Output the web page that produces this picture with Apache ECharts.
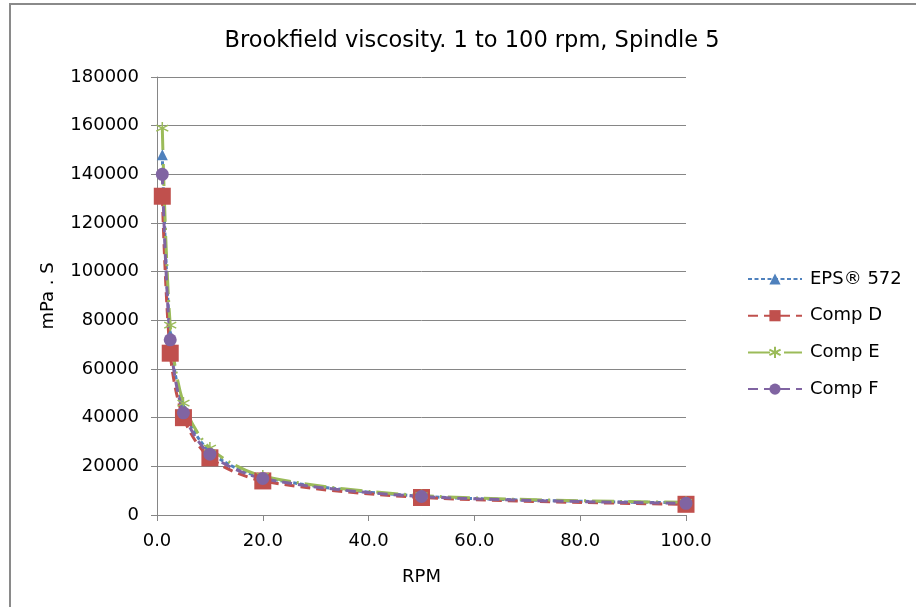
<!DOCTYPE html>
<html>
<head>
<meta charset="utf-8">
<script src="https://cdn.jsdelivr.net/npm/echarts@6/dist/echarts.min.js"></script>
<style>
  html, body { margin: 0; padding: 0; background: #fff; }
</style>
</head>
<body>
<div id="main" style="width: 916px;height: 607px;"></div>
<script>
// spindle speeds (rpm)
var rpm = [1, 2.5, 5, 10, 20, 50, 100]
// viscosity, mPa.s
var eps572 = [148000, 74000, 44000, 26000, 15500, 7700, 5000]
var compD = [131000, 66500, 40000, 23500, 14000, 7200, 4400]
var compE = [159000, 78000, 46000, 27500, 16000, 8000, 5200]
var compF = [140000, 72000, 42000, 25000, 15000, 7600, 4800]
var yTicks = [0, 20000, 40000, 60000, 80000, 100000, 120000, 140000, 160000, 180000]

function pairs (ys) {
  return rpm.map(function (x, i) { return [x, ys[i]] })
}

var gridColor = '#868686'
var font = 'DejaVu Sans, sans-serif'
var star = 'path://M5 0 L5 10 M0.7 2.5 L9.3 7.5 M0.7 7.5 L9.3 2.5'

var myChart = echarts.init(document.getElementById('main'))
var option = {
  animation: false,
  textStyle: { fontFamily: font },
  title: {
    text: 'Brookfield viscosity. 1 to 100 rpm, Spindle 5',
    left: 467,
    top: 25,
    textAlign: 'center',
    textStyle: { fontSize: 22.5, fontWeight: 'normal', color: '#000', fontFamily: font }
  },
  graphic: [{
    type: 'rect',
    shape: { x: 10, y: 4, width: 920, height: 640 },
    style: { fill: 'none', stroke: '#8a8a8a', lineWidth: 2 },
    silent: true
  }],
  legend: {
    orient: 'vertical',
    left: 742,
    top: 265,
    itemWidth: 54,
    itemHeight: 14,
    itemGap: 18.7,
    textStyle: { fontSize: 18, color: '#000', fontFamily: font, padding: [0, 0, 0, 3] },
    data: ['EPS® 572', 'Comp D', 'Comp E', 'Comp F']
  },
  grid: { left: 157, right: 230, top: 77, bottom: 92 },
  xAxis: {
    type: 'value',
    min: 0,
    max: 100,
    interval: 20,
    name: 'RPM',
    nameLocation: 'middle',
    nameGap: 53,
    nameTextStyle: { fontSize: 18, color: '#000' },
    axisLine: { lineStyle: { color: gridColor } },
    axisTick: { show: true, length: 6, lineStyle: { color: gridColor } },
    splitLine: { show: false },
    axisLabel: {
      fontSize: 18,
      color: '#000',
      margin: 17,
      formatter: function (v) { return v.toFixed(1) }
    }
  },
  yAxis: {
    type: 'value',
    min: yTicks[0],
    max: yTicks[yTicks.length - 1],
    interval: yTicks[1] - yTicks[0],
    name: 'mPa . S',
    nameLocation: 'middle',
    nameGap: 100,
    nameTextStyle: { fontSize: 18, color: '#000' },
    axisLine: { show: true, lineStyle: { color: gridColor } },
    axisTick: { show: true, length: 6, lineStyle: { color: gridColor } },
    splitLine: { lineStyle: { color: gridColor, width: 1 } },
    axisLabel: {
      fontSize: 18,
      color: '#000',
      margin: 18,
      formatter: function (v) { return String(v) }
    }
  },
  series: [
    {
      name: 'EPS® 572',
      type: 'line',
      smooth: 0.3,
      data: pairs(eps572),
      symbol: 'triangle',
      symbolSize: 11,
      itemStyle: { color: '#4f81bd' },
      lineStyle: { color: '#4f81bd', width: 3, type: [4, 2.5] }
    },
    {
      name: 'Comp D',
      type: 'line',
      smooth: 0.3,
      data: pairs(compD),
      symbol: 'rect',
      symbolSize: 17,
      itemStyle: { color: '#c0504d' },
      lineStyle: { color: '#c0504d', width: 3, type: [10, 6] }
    },
    {
      name: 'Comp E',
      type: 'line',
      smooth: 0.3,
      data: pairs(compE),
      symbol: star,
      symbolSize: 12,
      itemStyle: { color: '#9bbb59', borderColor: '#9bbb59', borderWidth: 1.5 },
      lineStyle: { color: '#9bbb59', width: 3, type: [22, 6, 2, 6] }
    },
    {
      name: 'Comp F',
      type: 'line',
      smooth: 0.3,
      data: pairs(compF),
      symbol: 'circle',
      symbolSize: 13,
      itemStyle: { color: '#8064a2' },
      lineStyle: { color: '#8064a2', width: 3, type: [10, 6] }
    }
  ]
}
myChart.setOption(option)
</script>
</body>
</html>
